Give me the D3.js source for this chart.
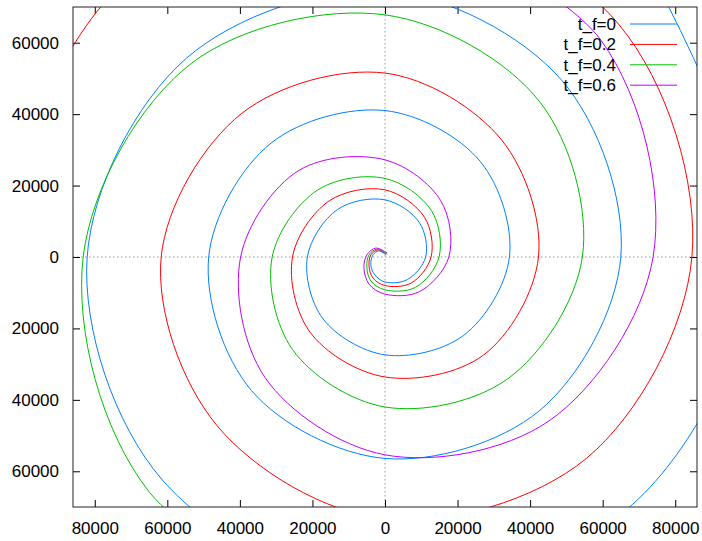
<!DOCTYPE html>
<html>
<head>
<meta charset="utf-8">
<script src="https://cdn.jsdelivr.net/npm/d3@7"></script>
<style>
  html, body { margin: 0; padding: 0; background: #fff; }
  svg { display: block; }
  text { font-family: "Liberation Sans", Arial, sans-serif; font-size: 17px; fill: #000; }
</style>
</head>
<body>
<div id="chart"></div>
<script>
// ---- data ----
const seriesNames = ["t_f=0", "t_f=0.2", "t_f=0.4", "t_f=0.6"];
const seriesColors = ["#0080ff", "#ff0000", "#00c000", "#c000ff"];

const xTickValues = [-80000, -60000, -40000, -20000, 0, 20000, 40000, 60000, 80000];
const xTickLabels = ["80000", "60000", "40000", "20000", "0", "20000", "40000", "60000", "80000"];
const yTickValues = [-60000, -40000, -20000, 0, 20000, 40000, 60000];
const yTickLabels = ["60000", "40000", "20000", "0", "20000", "40000", "60000"];

const spiralTf0 = [
  [300, 600], [-1700, 1700], [-3300, 600], [-3900, -2200], [-2800, -5000],
  [0, -7000], [6200, -6300], [11200, 0], [9500, 9600], [0, 16000],
  [-13100, 13300], [-21400, 0], [-17100, -17300], [0, -27400], [21600, -22000],
  [34300, 0], [26300, 26700], [0, 41000], [-31400, 31900], [-48600, 0],
  [-36800, -37400], [0, -56400], [42500, -43100], [65000, 0], [48700, 49500],
  [0, 74500], [-54800, 55600], [-82100, 0], [-61400, -62400], [0, -93800],
  [68200, -69300], [101400, 0], [75000, 76200]
];
const spiralTf02 = [
  [300, 800], [-1900, 2000], [-3900, 600], [-4400, -2500], [-3300, -5900],
  [0, -8000], [7200, -7300], [12700, 0], [10900, 11100], [0, 18800],
  [-15400, 15700], [-25500, 0], [-20700, -21000], [0, -33600], [27100, -27500],
  [42300, 0], [32200, 32700], [0, 51500], [-39500, 40200], [-61700, 0],
  [-46400, -47100], [0, -73400], [55500, -56400], [84600, 0], [64300, 65300],
  [0, 98600], [-73700, 74800], [-111600, 0]
];
const spiralTf04 = [
  [600, 800], [-2200, 2200], [-4400, 600], [-5000, -2800], [-3900, -6700],
  [0, -9200], [8400, -8500], [14900, 0], [12800, 13000], [0, 22000],
  [-18500, 18800], [-31100, 0], [-25500, -25900], [0, -42000], [33700, -34200],
  [54400, 0], [42700, 43400], [0, 67800], [-53400, 54200], [-83200, 0],
  [-64900, -65900], [0, -102200]
];
const spiralTf06 = [
  [600, 1100], [-2500, 2500], [-5000, 600], [-5800, -3100], [-4400, -7600],
  [0, -10400], [9500, -9700], [17600, 0], [15400, 15700], [0, 27200],
  [-23800, 24200], [-39800, 0], [-33100, -33700], [0, -55400], [45200, -45900],
  [73900, 0], [59600, 60600], [0, 98000]
];
const seriesData = [spiralTf0, spiralTf02, spiralTf04, spiralTf06];

// ---- layout ----
const W = 702, H = 541;
const plot = { left: 73, right: 697, top: 7, bottom: 507 };

const svg = d3.select("#chart").append("svg")
  .attr("width", W).attr("height", H);

const x = d3.scaleLinear().domain([-86000, 86000]).range([plot.left, plot.right]);
const y = d3.scaleLinear().domain([-70000, 70000]).range([plot.bottom, plot.top]);

svg.append("defs").append("clipPath").attr("id", "plotclip")
  .append("rect")
  .attr("x", plot.left).attr("y", plot.top)
  .attr("width", plot.right - plot.left).attr("height", plot.bottom - plot.top);

// zero axes (dotted)
svg.append("line")
  .attr("x1", plot.left).attr("x2", plot.right)
  .attr("y1", y(0)).attr("y2", y(0))
  .attr("stroke", "#999").attr("stroke-width", 1).attr("stroke-dasharray", "1.5,2.5");
svg.append("line")
  .attr("x1", x(0)).attr("x2", x(0))
  .attr("y1", plot.top).attr("y2", plot.bottom)
  .attr("stroke", "#999").attr("stroke-width", 1).attr("stroke-dasharray", "1.5,2.5");

// axes with inward ticks on all sides
const tickLen = 7;
const axBottom = d3.axisBottom(x).tickValues(xTickValues).tickSize(-tickLen).tickPadding(10)
  .tickFormat((d, i) => xTickLabels[i]);
const axTop = d3.axisTop(x).tickValues(xTickValues).tickSize(-tickLen).tickFormat("");
const axLeft = d3.axisLeft(y).tickValues(yTickValues).tickSize(-tickLen).tickPadding(14)
  .tickFormat((d, i) => yTickLabels[i]);
const axRight = d3.axisRight(y).tickValues(yTickValues).tickSize(-tickLen).tickFormat("");

function styleAxis(g) {
  g.select(".domain").remove();
  g.selectAll(".tick line").attr("stroke", "#000").attr("stroke-width", 1);
  g.selectAll(".tick text")
    .style("font-family", '"Liberation Sans", Arial, sans-serif')
    .style("font-size", "17px").attr("fill", "#000");
}
svg.append("g").attr("transform", `translate(0,${plot.bottom})`).call(axBottom).call(styleAxis)
  .selectAll(".tick text").attr("dy", "0.71em").attr("y", 15);
svg.append("g").attr("transform", `translate(0,${plot.top})`).call(axTop).call(styleAxis);
svg.append("g").attr("transform", `translate(${plot.left},0)`).call(axLeft).call(styleAxis);
svg.append("g").attr("transform", `translate(${plot.right},0)`).call(axRight).call(styleAxis);

// spirals
const line = d3.line()
  .x(d => x(d[0])).y(d => y(d[1]))
  .curve(d3.curveCatmullRom.alpha(0.5));

const curves = svg.append("g").attr("clip-path", "url(#plotclip)");
seriesData.forEach((data, i) => {
  curves.append("path")
    .datum(data)
    .attr("d", line)
    .attr("fill", "none")
    .attr("stroke", seriesColors[i])
    .attr("stroke-width", 1)
    .attr("stroke-linejoin", "round");
});

// legend
const legend = svg.append("g");
const legendTop = 24, legendStep = 20.4;
seriesNames.forEach((name, i) => {
  const ly = legendTop + i * legendStep;
  legend.append("text")
    .attr("x", 616).attr("y", ly + 6)
    .attr("text-anchor", "end")
    .text(name);
  legend.append("line")
    .attr("x1", 630).attr("x2", 677)
    .attr("y1", ly).attr("y2", ly)
    .attr("stroke", seriesColors[i]).attr("stroke-width", 1);
});

// border
svg.append("rect")
  .attr("x", plot.left).attr("y", plot.top)
  .attr("width", plot.right - plot.left).attr("height", plot.bottom - plot.top)
  .attr("fill", "none").attr("stroke", "#222").attr("stroke-width", 1);
</script>
</body>
</html>
